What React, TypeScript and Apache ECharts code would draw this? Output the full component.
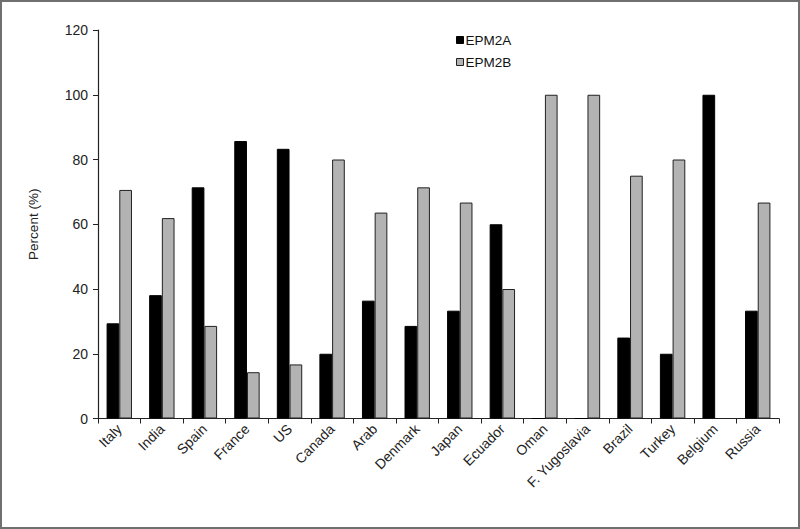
import React, { useEffect, useRef } from "react";
import * as echarts from "echarts";

const categories = [
  "Italy", "India", "Spain", "France", "US", "Canada", "Arab", "Denmark",
  "Japan", "Ecuador", "Oman", "F. Yugoslavia", "Brazil", "Turkey", "Belgium", "Russia",
];
const epm2a = [29.4, 38.1, 71.4, 85.7, 83.3, 20, 36.4, 28.6, 33.3, 60, 0, 0, 25, 20, 100, 33.3];
const epm2b = [70.6, 61.9, 28.6, 14.3, 16.7, 80, 63.6, 71.4, 66.7, 40, 100, 100, 75, 80, 0, 66.7];
const yTicks = { min: 0, max: 120, interval: 20 };

const FONT = "Liberation Sans, Arial, sans-serif";

export default function App() {
  const ref = useRef<HTMLDivElement>(null);
  useEffect(() => {
    if (!ref.current) return;
    const chart = echarts.init(ref.current, null, { renderer: "svg" });
    chart.setOption({
      animation: false,
      backgroundColor: "#ffffff",
      textStyle: { fontFamily: FONT },
      grid: { left: 98, right: 21, top: 30, bottom: 110.5, containLabel: false },
      legend: {
        orient: "vertical",
        left: 451,
        top: 28,
        itemWidth: 7,
        itemHeight: 7,
        itemGap: 8,
        icon: "rect",
        textStyle: { fontFamily: FONT, fontSize: 13.5, color: "#111", padding: [0, 0, 0, -3] },
        data: [
          { name: "EPM2A", itemStyle: { color: "#000", borderColor: "#000", borderWidth: 1 } },
          { name: "EPM2B", itemStyle: { color: "#b3b3b3", borderColor: "#222", borderWidth: 1 } },
        ],
      },
      xAxis: {
        type: "category",
        data: categories,
        axisLine: { lineStyle: { color: "#222", width: 1.2 } },
        axisTick: { show: true, alignWithLabel: false, length: 5, inside: false, lineStyle: { color: "#222" } },
        axisLabel: {
          rotate: 45,
          interval: 0,
          fontFamily: FONT,
          fontSize: 14,
          color: "#222",
          margin: 8,
        },
        splitLine: { show: false },
      },
      yAxis: {
        type: "value",
        min: yTicks.min,
        max: yTicks.max,
        interval: yTicks.interval,
        name: "Percent (%)",
        nameLocation: "middle",
        nameGap: 58,
        nameRotate: 90,
        nameTextStyle: { fontFamily: FONT, fontSize: 13.5, color: "#222" },
        axisLine: { show: true, lineStyle: { color: "#222", width: 1.2 } },
        axisTick: { show: true, length: 5, lineStyle: { color: "#222" } },
        axisLabel: { fontFamily: FONT, fontSize: 14, color: "#222", margin: 10 },
        splitLine: { show: false },
      },
      series: [
        {
          name: "EPM2A",
          type: "bar",
          data: epm2a,
          barWidth: 12.7,
          barGap: "0%",
          itemStyle: { color: "#000", borderColor: "#000", borderWidth: 1 },
        },
        {
          name: "EPM2B",
          type: "bar",
          data: epm2b,
          barWidth: 12.7,
          barGap: "0%",
          itemStyle: { color: "#b3b3b3", borderColor: "#222", borderWidth: 1 },
        },
      ],
      graphic: [
        {
          type: "rect",
          shape: { x: 1, y: 1, width: 798, height: 527 },
          style: { fill: "none", stroke: "#707070", lineWidth: 2 },
          silent: true,
        },
      ],
    });
    return () => chart.dispose();
  }, []);
  return (
    <div
      ref={ref}
      style={{ position: "fixed", left: 0, top: 0, width: 800, height: 529 }}
    />
  );
}
